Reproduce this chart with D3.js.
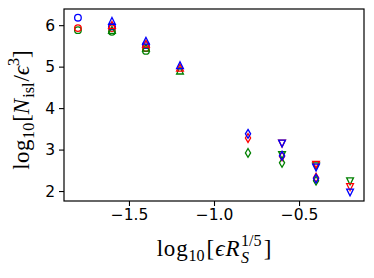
<!DOCTYPE html>
<html>
<head>
<meta charset="UTF-8">
<title>Nisl vs eps R_S</title>
<script src="https://cdn.jsdelivr.net/npm/d3@7"></script>
<style>
  body { margin: 0; background: #fff; }
  text { fill: #000; }
</style>
</head>
<body>
<div id="plot"></div>
<script>

// data
var xCircle  = [-1.8, -1.6, -1.4]
var xTriUp   = [-1.6, -1.4, -1.2]
var xDiamond = [-0.8, -0.6, -0.4]
var xTriDown = [-0.6, -0.4, -0.2]

var circleGreen = [5.88, 5.84, 5.38]
var circleRed   = [5.93, 5.93, 5.45]
var circleBlue  = [6.18, 5.97, 5.52]

var triUpGreen = [5.88, 5.45, 4.90]
var triUpRed   = [6.00, 5.55, 4.97]
var triUpBlue  = [6.10, 5.62, 5.03]

var diamondGreen = [2.92, 2.68, 2.25]
var diamondRed   = [3.28, 2.84, 2.32]
var diamondBlue  = [3.38, 2.85, 2.30]

var triDownGreen = [2.87, 2.60, 2.24]
var triDownRed   = [3.15, 2.64, 2.10]
var triDownBlue  = [3.15, 2.57, 1.97]

var xTicks = [-1.5, -1.0, -0.5]
var yTicks = [2, 3, 4, 5, 6]

// layout (note: "top" is taken by window.top, so prefix these)
var width = 374, height = 278
var padL = 64, padR = 364, padT = 9, padB = 201
var serif = "'Liberation Serif', 'DejaVu Serif', serif"
var sans  = "'DejaVu Sans', sans-serif"

var x = d3.scaleLinear().domain([-1.882, -0.118]).range([padL, padR])
var y = d3.scaleLinear().domain([1.76, 6.39]).range([padB, padT])

var svg = d3.select("#plot").append("svg")
	.attr("width", width)
	.attr("height", height)

// marker shapes, about matplotlib's default size here
function markerPath(kind) {
	var p = d3.path()
	if (kind == "up")   { p.moveTo(0, -3.6); p.lineTo(-3.4, 3.2); p.lineTo(3.4, 3.2); p.closePath() }
	if (kind == "down") { p.moveTo(0, 3.6); p.lineTo(-3.4, -3.2); p.lineTo(3.4, -3.2); p.closePath() }
	if (kind == "diam") { p.moveTo(0, -4.4); p.lineTo(2.6, 0); p.lineTo(0, 4.4); p.lineTo(-2.6, 0); p.closePath() }
	return p
}

var series = [
	{ kind: "circle", xs: xCircle,  ys: circleGreen,  color: "#008000" },
	{ kind: "circle", xs: xCircle,  ys: circleRed,    color: "#ff0000" },
	{ kind: "circle", xs: xCircle,  ys: circleBlue,   color: "#0000ff" },
	{ kind: "up",     xs: xTriUp,   ys: triUpGreen,   color: "#008000" },
	{ kind: "up",     xs: xTriUp,   ys: triUpRed,     color: "#ff0000" },
	{ kind: "up",     xs: xTriUp,   ys: triUpBlue,    color: "#0000ff" },
	{ kind: "down",   xs: xTriDown, ys: triDownGreen, color: "#008000" },
	{ kind: "down",   xs: xTriDown, ys: triDownRed,   color: "#ff0000" },
	{ kind: "down",   xs: xTriDown, ys: triDownBlue,  color: "#0000ff" },
	{ kind: "diam",   xs: xDiamond, ys: diamondGreen, color: "#008000" },
	{ kind: "diam",   xs: xDiamond, ys: diamondRed,   color: "#ff0000" },
	{ kind: "diam",   xs: xDiamond, ys: diamondBlue,  color: "#0000ff" }
]

var marks = svg.append("g")
series.forEach(function(s) {
	var pts = s.xs.map(function(v, i) { return [v, s.ys[i]] })
	var sel = marks.selectAll(null).data(pts).enter()
	if (s.kind == "circle") {
		sel.append("circle")
			.attr("cx", function(d) { return x(d[0]) })
			.attr("cy", function(d) { return y(d[1]) })
			.attr("r", 3.3)
			.attr("fill", "none")
			.attr("stroke", s.color)
			.attr("stroke-width", 1.3)
	} else {
		sel.append("path")
			.attr("d", markerPath(s.kind).toString())
			.attr("transform", function(d) { return "translate(" + x(d[0]) + "," + y(d[1]) + ")" })
			.attr("fill", "none")
			.attr("stroke", s.color)
			.attr("stroke-width", 1.3)
	}
})

// axes
var xAxis = svg.append("g")
	.attr("transform", "translate(0," + padB + ")")
	.call(d3.axisBottom(x).tickValues(xTicks).tickSize(5).tickPadding(3)
		.tickFormat(function(d) { return d3.format(".1f")(d).replace("-", "\u2212") }))
var yAxis = svg.append("g")
	.attr("transform", "translate(" + padL + ",0)")
	.call(d3.axisLeft(y).tickValues(yTicks).tickSize(5).tickPadding(4).tickFormat(d3.format("d")))

;[xAxis, yAxis].forEach(function(a) {
	a.select(".domain").remove()
	a.selectAll(".tick line").attr("stroke", "#000").attr("stroke-width", 1.1)
	a.selectAll(".tick text").style("font-family", sans).style("font-size", "15.5px").attr("fill", "#000")
})

svg.append("rect")
	.attr("x", padL).attr("y", padT)
	.attr("width", padR - padL).attr("height", padB - padT)
	.attr("fill", "none").attr("stroke", "#000").attr("stroke-width", 1.2)

// math style labels, laid out piece by piece
function mathLabel(g, parts, fs) {
	var cx = 0, lastW = 0
	parts.forEach(function(p) {
		var size = fs * (p.s || 1)
		var t = g.append("text")
			.attr("x", p.back ? cx - lastW : cx)
			.attr("y", (p.dy || 0) * fs)
			.style("font-family", serif)
			.style("font-size", size + "px")
			.style("font-style", p.i ? "italic" : "normal")
			.style("letter-spacing", (p.ls || 0) + "px")
			.text(p.t)
		var w = t.node().getComputedTextLength() + (p.pad || 0)
		if (p.back) { cx = cx - lastW + Math.max(w, lastW) }
		else { cx += w; lastW = w }
	})
	return cx
}

var xl = svg.append("g")
var xw = mathLabel(xl, [
	{ t: "log", ls: 0.8 },
	{ t: "10", s: 0.7, dy: 0.22, pad: 2 },
	{ t: "[", pad: 1 },
	{ t: "\u03f5", i: true, pad: 1 },
	{ t: "R", i: true, pad: 1.5 },
	{ t: "S", i: true, s: 0.7, dy: 0.3 },
	{ t: "1/5", s: 0.7, dy: -0.45, back: true, pad: 2 },
	{ t: "]" }
], 23)
xl.attr("transform", "translate(" + ((padL + padR) / 2 - xw / 2) + ",256)")

var yl = svg.append("g")
var yw = mathLabel(yl, [
	{ t: "log", ls: 0.5 },
	{ t: "10", s: 0.7, dy: 0.22, pad: 1 },
	{ t: "[" },
	{ t: "N", i: true, pad: 1 },
	{ t: "isl", s: 0.7, dy: 0.22, pad: 1 },
	{ t: "/" },
	{ t: "\u03f5", i: true },
	{ t: "3", s: 0.7, dy: -0.42 },
	{ t: "]" }
], 23)
yl.attr("transform", "translate(29," + ((padT + padB) / 2 + 5 + yw / 2) + ") rotate(-90)")

</script>
</body>
</html>
